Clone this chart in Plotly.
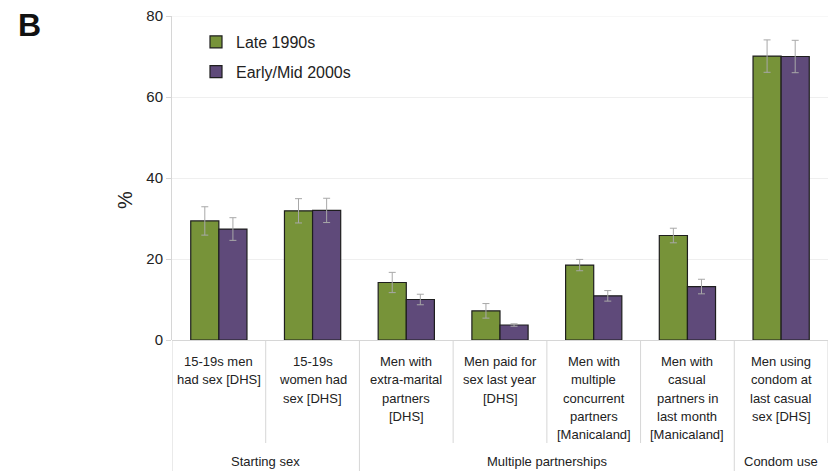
import plotly.graph_objects as go

categories = ["15-19s men had sex [DHS]", "15-19s women had sex [DHS]",
              "Men with extra-marital partners [DHS]", "Men paid for sex last year [DHS]",
              "Men with multiple concurrent partners [Manicaland]",
              "Men with casual partners in last month [Manicaland]",
              "Men using condom at last casual sex [DHS]"]
cat_label_lines = [
    ["15-19s men", "had sex [DHS]"],
    ["15-19s", "women had", "sex [DHS]"],
    ["Men with", "extra-marital", "partners", "[DHS]"],
    ["Men paid for", "sex last year", "[DHS]"],
    ["Men with", "multiple", "concurrent", "partners", "[Manicaland]"],
    ["Men with", "casual", "partners in", "last month", "[Manicaland]"],
    ["Men using", "condom at", "last casual", "sex [DHS]"],
]
groups = [("Starting sex", 0, 1), ("Multiple partnerships", 2, 5), ("Condom use", 6, 6)]

late_1990s = [29.4, 31.9, 14.2, 7.2, 18.5, 25.8, 70.1]
late_1990s_err = [3.5, 3.0, 2.5, 1.8, 1.4, 1.8, 4.0]
early_2000s = [27.4, 32.0, 10.0, 3.7, 10.9, 13.2, 70.0]
early_2000s_err = [2.8, 3.0, 1.3, 0.3, 1.3, 1.8, 4.0]

y_ticks = [0, 20, 40, 60, 80]

GREEN = "#779339"
PURPLE = "#5f4a7a"
FONT = "Liberation Sans, Arial, sans-serif"

# the page body has an 8px default margin: the figure is drawn from (8, 8)
OFF = 8
W, H = 836 - OFF, 471 - OFF
# plot area in screenshot pixels: x 172..828, y 16..340
L, R, T, B = 172 - OFF, 836 - 828, 16 - OFF, 471 - 340
PH = H - T - B
PW = W - L - R


def py(Y):
    """screenshot pixel Y -> paper y"""
    return (340 - Y) / PH


def px(X):
    """screenshot pixel X -> paper x"""
    return (X - 172) / PW


xs = list(range(len(categories)))

fig = go.Figure()
fig.add_trace(go.Bar(
    x=xs, y=late_1990s, name="Late 1990s",
    marker=dict(color=GREEN, line=dict(color="#1e1e1e", width=1.2)),
    error_y=dict(type="data", array=late_1990s_err, color="#a8a8a8", thickness=1, width=3.5),
    legendgroup="a", hovertext=categories,
))
fig.add_trace(go.Bar(
    x=xs, y=early_2000s, name="Early/Mid 2000s",
    marker=dict(color=PURPLE, line=dict(color="#1e1e1e", width=1.2)),
    error_y=dict(type="data", array=early_2000s_err, color="#a8a8a8", thickness=1, width=3.5),
    legendgroup="b", hovertext=categories,
))

annotations = []
shapes = []

# category labels
line_step = 18.3
first_line = 361.5
for i, lines in enumerate(cat_label_lines):
    for j, t in enumerate(lines):
        annotations.append(dict(
            x=i, y=py(first_line + j * line_step), xref="x", yref="paper",
            text=t, showarrow=False, xanchor="center", yanchor="middle",
            font=dict(family=FONT, size=13, color="#222"),
        ))

# group labels
for name, a, b in groups:
    annotations.append(dict(
        x=(a + b) / 2, y=py(462), xref="x", yref="paper",
        text=name, showarrow=False, xanchor="center", yanchor="middle",
        font=dict(family=FONT, size=13, color="#222"),
    ))

# separators
full_bounds = {-0.5} | {b + 0.5 for _, _, b in groups[:-1]}
for k in range(len(categories) + 1):
    xb = k - 0.5
    ybot = py(471) if xb in full_bounds else py(443)
    shapes.append(dict(type="line", xref="x", yref="paper", x0=xb, x1=xb,
                       y0=0, y1=ybot, line=dict(color="#d6d6d6", width=1)))

# top grid line (at the top of the value range)
shapes.append(dict(type="line", xref="paper", yref="y", x0=0, x1=1, y0=y_ticks[-1], y1=y_ticks[-1],
                   line=dict(color="#efefef", width=1), layer="below"))

# "%" axis title and panel letter
annotations.append(dict(x=px(125), y=py(200), xref="paper", yref="paper", text="%",
                        textangle=-90, showarrow=False, xanchor="center", yanchor="middle",
                        font=dict(family=FONT, size=20, color="#222")))
annotations.append(dict(x=px(29), y=py(25), xref="paper", yref="paper", text="<b>B</b>",
                        showarrow=False, xanchor="center", yanchor="middle",
                        font=dict(family=FONT, size=32, color="#111")))

fig.update_layout(
    width=W, height=H,
    margin=dict(l=L, r=R, t=T, b=B, pad=0, autoexpand=False),
    paper_bgcolor="white", plot_bgcolor="white",
    barmode="group", bargap=0.4, bargroupgap=0,
    showlegend=True,
    legend=dict(x=px(196), y=py(25), xanchor="left", yanchor="top",
                bgcolor="rgba(0,0,0,0)", font=dict(family=FONT, size=16, color="#222"),
                traceorder="grouped", tracegroupgap=6),
    annotations=annotations, shapes=shapes,
    font=dict(family=FONT),
)
fig.update_xaxes(range=[-0.5, len(categories) - 0.5], showticklabels=False, showgrid=False,
                 zeroline=False, showline=False, ticks="", automargin=False)
fig.update_yaxes(range=[0, 80], tickvals=y_ticks, ticktext=[str(v) for v in y_ticks],
                 ticklabeloverflow="allow", automargin=False,
                 showgrid=True, gridcolor="#efefef", gridwidth=1,
                 zeroline=True, zerolinecolor="#d6d6d6", zerolinewidth=1,
                 showline=True, linecolor="#d6d6d6", linewidth=1,
                 ticks="outside", ticklen=5, tickcolor="#d6d6d6",
                 tickfont=dict(family=FONT, size=15, color="#222"))

fig.write_html("out.html")
